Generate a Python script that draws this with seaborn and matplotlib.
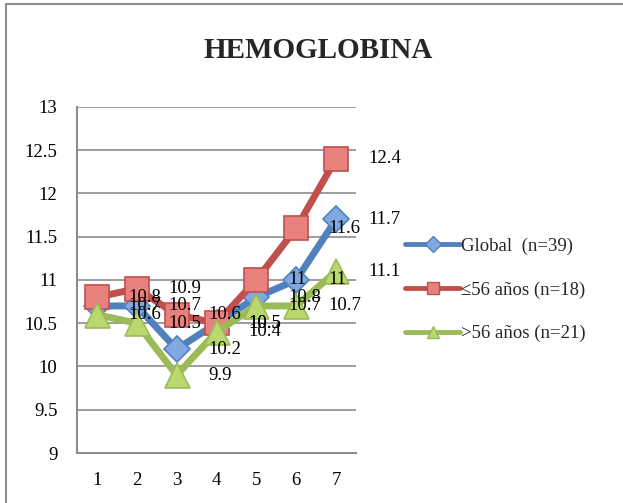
import matplotlib
matplotlib.use("Agg")
import matplotlib.pyplot as plt
import seaborn as sns
import pandas as pd
from matplotlib.lines import Line2D

# Hemoglobin values per visit, for the whole cohort and split by age
visits = [1, 2, 3, 4, 5, 6, 7]
global_vals = [10.7, 10.7, 10.2, 10.5, 10.8, 11.0, 11.7]
young_vals = [10.8, 10.9, 10.6, 10.5, 11.0, 11.6, 12.4]
old_vals = [10.6, 10.5, 9.9, 10.4, 10.7, 10.7, 11.1]
series_names = ["Global  (n=39)", "≤56 años (n=18)", ">56 años (n=21)"]
y_ticks = [9, 9.5, 10, 10.5, 11, 11.5, 12, 12.5, 13]
title = "HEMOGLOBINA"

df = pd.DataFrame({
    "visita": visits * 3,
    "valor": global_vals + young_vals + old_vals,
    "grupo": [series_names[0]] * 7 + [series_names[1]] * 7 + [series_names[2]] * 7,
})

sns.set_theme(style="white")
plt.rcParams["font.family"] = ["Liberation Serif", "DejaVu Serif"]

W, H = 623, 503
FS = 13.5
fig = plt.figure(figsize=(W / 100, H / 100), dpi=100)
ax = fig.add_axes([77 / W, 50 / H, 279 / W, 346 / H])

styles = {
    series_names[0]: dict(color="#4F81BD", marker="D", ms=13, mfc="#7FA9E0", mec="#4F81BD"),
    series_names[1]: dict(color="#C0504D", marker="s", ms=17, mfc="#E8817E", mec="#C0504D"),
    series_names[2]: dict(color="#9BBB59", marker="^", ms=18, mfc="#B9D86E", mec="#9BBB59"),
}

for z, name in enumerate(series_names):
    st = styles[name]
    sub = df[df["grupo"] == name]
    sns.lineplot(data=sub, x="visita", y="valor", ax=ax, color=st["color"],
                 linewidth=5, marker=st["marker"], markersize=st["ms"],
                 markerfacecolor=st["mfc"], markeredgecolor=st["mec"],
                 markeredgewidth=1.2, zorder=3 + z, legend=False)

# value labels to the right of each point
for name in series_names:
    sub = df[df["grupo"] == name]
    for x, y in zip(sub["visita"], sub["valor"]):
        ax.annotate(f"{y:g}", (x, y), xytext=(23, 0), textcoords="offset points",
                    ha="left", va="center", fontsize=FS, color="black", zorder=10)

ax.set_xlim(0.5, 7.5)
ax.set_ylim(9, 13)
ax.set_yticks(y_ticks)
ax.set_yticklabels([f"{t:g}" for t in y_ticks])
ax.set_xticks(visits)
ax.set_xticklabels([str(v) for v in visits])
ax.set_xlabel("")
ax.set_ylabel("")
ax.tick_params(axis="both", length=0, labelsize=FS, colors="black")
ax.tick_params(axis="y", pad=14)
ax.tick_params(axis="x", pad=14)
ax.grid(axis="y", color="#8C8C8C", linewidth=1.2)
ax.grid(axis="x", visible=False)
ax.set_axisbelow(True)
for side in ["top", "right"]:
    ax.spines[side].set_visible(False)
for side in ["left", "bottom"]:
    ax.spines[side].set_color("#8C8C8C")
    ax.spines[side].set_linewidth(1.5)

fig.text(318 / W, 1 - 51 / H, title, ha="center", va="center",
         fontsize=21, fontweight="bold")

handles = [Line2D([], [], color=styles[n]["color"], linewidth=3.5,
                  marker=styles[n]["marker"], markersize=8,
                  markerfacecolor=styles[n]["mfc"], markeredgecolor=styles[n]["mec"])
           for n in series_names]
fig.legend(handles, series_names, loc="center left",
           bbox_to_anchor=(388 / W, 1 - 290 / H), frameon=False, fontsize=FS,
           handlelength=2.95, handletextpad=0.05, labelspacing=1.4)

# chart frame: top and left edges
fig.add_artist(Line2D([6 / W, 6 / W, 1.0], [0.0, 1 - 4 / H, 1 - 4 / H],
                      transform=fig.transFigure, color="#8C8C8C", linewidth=1.5))

fig.savefig("out.png", dpi=100)
